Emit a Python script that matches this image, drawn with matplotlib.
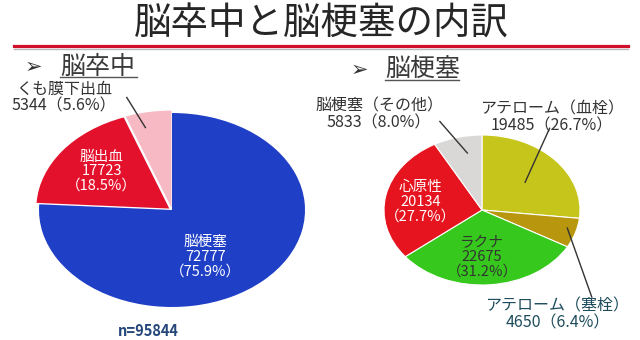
import matplotlib.pyplot as plt
from matplotlib.lines import Line2D

plt.rcParams['font.family'] = ['Noto Sans CJK JP', 'DejaVu Sans']

# stroke breakdown (left) and infarction subtypes (right)
stroke_names = ["脳梗塞", "脳出血", "くも膜下出血"]
stroke_counts = [72777, 17723, 5344]
stroke_pcts = [75.9, 18.5, 5.6]
stroke_colors = ["#1f3fc6", "#e3112c", "#f7b9c3"]
stroke_total = 95844

infarct_names = ["アテローム（血栓）", "アテローム（塞栓）", "ラクナ", "心原性", "脳梗塞（その他）"]
infarct_counts = [19485, 4650, 22675, 20134, 5833]
infarct_pcts = [26.7, 6.4, 31.2, 27.7, 8.0]
infarct_colors = ["#c6c51c", "#b8960e", "#36c81c", "#e5141f", "#dad7d7"]

W, H = 640, 340
fig = plt.figure(figsize=(W / 100, H / 100), dpi=100)
fig.patch.set_facecolor("white")


def fx(x):
    return x / W


def fy(y):
    return 1 - y / H


def pie_axes(cx, cy, rx, ry, lim=1.3):
    ax = fig.add_axes([fx(cx - lim * rx), fy(cy + lim * ry),
                       2 * lim * rx / W, 2 * lim * ry / H])
    ax.set_facecolor("none")
    return ax


# title and red rule
fig.text(fx(321), fy(24), "脳卒中と脳梗塞の内訳", fontsize=27, color="#262626",
         ha="center", va="center")
fig.add_artist(Line2D([fx(14), fx(628)], [fy(48.5), fy(48.5)], color="#b8b8b8",
                      lw=1, transform=fig.transFigure))
fig.add_artist(Line2D([fx(14), fx(628)], [fy(46), fy(46)], color="#cf1028",
                      lw=2.3, transform=fig.transFigure))

# section headers
for ax_x, tx, ty, t_end, name in [(33, 60, 67, 137, "脳卒中"), (359, 385, 70, 459, "脳梗塞")]:
    fig.text(fx(ax_x), fy(ty), "➢", fontsize=15, color="#333333",
             ha="center", va="center", family="DejaVu Sans")
    fig.text(fx(tx), fy(ty), name, fontsize=18, color="#3a3a3a",
             ha="left", va="center")
    fig.add_artist(Line2D([fx(tx), fx(t_end)], [fy(ty + 10), fy(ty + 10)], color="#555555",
                          lw=1, transform=fig.transFigure))

# left pie
ax1 = pie_axes(172, 210, 133, 97)
ax1.pie(stroke_counts, colors=stroke_colors, startangle=90, counterclock=False,
        explode=[0, 0.025, 0.025], wedgeprops=dict(linewidth=0))
ax1.set_aspect("auto")
ax1.set_xlim(-1.3, 1.3)
ax1.set_ylim(-1.3, 1.3)

inside = dict(ha="center", va="center", fontsize=10.5, linespacing=1.05)
ax1.text(0.25, -0.48, f"{stroke_names[0]}\n{stroke_counts[0]}\n（{stroke_pcts[0]}%）",
         color="white", **inside)
ax1.text(-0.53, 0.40, f"{stroke_names[1]}\n{stroke_counts[1]}\n（{stroke_pcts[1]}%）",
         color="white", **inside)
ax1.text(-0.81, 1.16, f"{stroke_names[2]}\n{stroke_counts[2]}（{stroke_pcts[2]}%）",
         color="#333333", ha="center", va="center", fontsize=11.5, linespacing=1.0)
ax1.plot([-0.34, -0.20], [1.16, 0.85], color="#333333", lw=1, clip_on=False)

fig.text(fx(148), fy(331), f"n={stroke_total}", fontsize=10.5, fontweight="bold",
         color="#24467a", ha="center", va="center")

# right pie
ax2 = pie_axes(482, 210, 98, 75)
ax2.pie(infarct_counts, colors=infarct_colors, startangle=90, counterclock=False,
        wedgeprops=dict(edgecolor="white", linewidth=0.8))
ax2.set_aspect("auto")
ax2.set_xlim(-1.3, 1.3)
ax2.set_ylim(-1.3, 1.3)

ax2.text(-0.63, 0.11, f"{infarct_names[3]}\n{infarct_counts[3]}\n（{infarct_pcts[3]}%）",
         color="white", **inside)
ax2.text(0.0, -0.63, f"{infarct_names[2]}\n{infarct_counts[2]}\n（{infarct_pcts[2]}%）",
         color="#333333", **inside)

outside = dict(ha="center", va="center", fontsize=11.5, linespacing=1.0)
ax2.text(-1.05, 1.27, f"{infarct_names[4]}\n{infarct_counts[4]}（{infarct_pcts[4]}%）",
         color="#333333", **outside)
ax2.plot([-0.43, -0.15], [1.18, 0.76], color="#333333", lw=1, clip_on=False)

ax2.text(0.71, 1.23, f"{infarct_names[0]}\n{infarct_counts[0]}（{infarct_pcts[0]}%）",
         color="#333333", **outside)
ax2.plot([0.69, 0.44], [1.09, 0.37], color="#333333", lw=1, clip_on=False)

ax2.text(0.77, -1.39, f"{infarct_names[1]}\n{infarct_counts[1]}（{infarct_pcts[1]}%）",
         color="#1d4c5c", **outside)
ax2.plot([0.87, 1.12], [-0.24, -1.16], color="#333333", lw=1, clip_on=False)

for ax in (ax1, ax2):
    ax.axis("off")

fig.savefig("out.png", dpi=100, facecolor="white")
